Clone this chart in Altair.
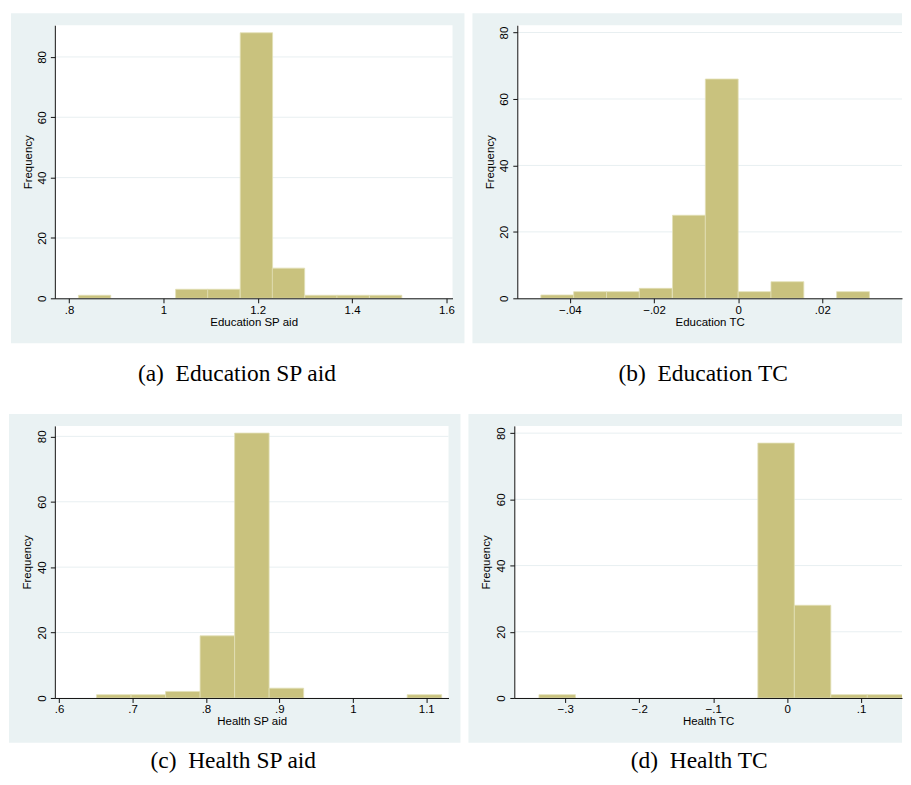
import altair as alt
import pandas as pd

# ---------------- data ----------------
edu_sp_bin_start = [0.820, 0.889, 0.957, 1.026, 1.094, 1.163, 1.231, 1.300, 1.368, 1.437]
edu_sp_bin_width = 0.0686
edu_sp_counts = [1, 0, 0, 3, 3, 88, 10, 1, 1, 1]
edu_sp_ticks = [0.8, 1.0, 1.2, 1.4, 1.6]
edu_sp_tick_labels = [".8", "1", "1.2", "1.4", "1.6"]

edu_tc_bin_start = [-0.0469, -0.0391, -0.0313, -0.0235, -0.0156, -0.0078, 0.0000, 0.0078, 0.0156, 0.0234]
edu_tc_bin_width = 0.0078
edu_tc_counts = [1, 2, 2, 3, 25, 66, 2, 5, 0, 2]
edu_tc_ticks = [-0.04, -0.02, 0.0, 0.02]
edu_tc_tick_labels = ["\u2212.04", "\u2212.02", "0", ".02"]

hl_sp_bin_start = [0.651, 0.698, 0.745, 0.792, 0.839, 0.886, 0.933, 0.980, 1.027, 1.074]
hl_sp_bin_width = 0.047
hl_sp_counts = [1, 1, 2, 19, 81, 3, 0, 0, 0, 1]
hl_sp_ticks = [0.6, 0.7, 0.8, 0.9, 1.0, 1.1]
hl_sp_tick_labels = [".6", ".7", ".8", ".9", "1", "1.1"]

hl_tc_bin_start = [-0.3354, -0.2861, -0.2368, -0.1875, -0.1382, -0.0889, -0.0396, 0.0097, 0.0590, 0.1083]
hl_tc_bin_width = 0.0493
hl_tc_counts = [1, 0, 0, 0, 0, 0, 77, 28, 1, 1]
hl_tc_ticks = [-0.3, -0.2, -0.1, 0.0, 0.1]
hl_tc_tick_labels = ["\u2212.3", "\u2212.2", "\u2212.1", "0", ".1"]

freq_ticks = [0, 20, 40, 60, 80]
grid_levels = [20, 40, 60, 80]
y_title = "Frequency"
x_titles = ["Education SP aid", "Education TC", "Health SP aid", "Health TC"]
captions = ["(a)\u00a0 Education SP aid", "(b)\u00a0 Education TC",
            "(c)\u00a0 Health SP aid", "(d)\u00a0 Health TC"]

# ---------------- styling ----------------
BG = "#eaf2f3"
BAR = "#c9c27e"
EDGE = "#e2dfb6"
GRID = "#e8eff1"
SANS = "Liberation Sans"
SERIF = "Liberation Serif"
FS = 11.5


def label_expr(ticks, labels):
    expr = "''"
    for t, l in reversed(list(zip(ticks, labels))):
        expr = f"abs(datum.value - ({t})) < 1e-9 ? '{l}' : ({expr})"
    return expr


def panel(starts, width, counts, ticks, tick_labels, x_title, caption,
          w, h, xdom, ymax, gray, cap_xy, title_x, extender=None):
    df = pd.DataFrame({"start": starts, "count": counts})
    df["end"] = df["start"] + width
    df["base"] = 0

    xscale = alt.Scale(domain=xdom, nice=False, zero=False)
    yscale = alt.Scale(domain=[0, ymax], nice=False, zero=True)
    xaxis = alt.Axis(values=ticks, labelExpr=label_expr(ticks, tick_labels),
                     title=x_title, grid=False, zindex=1,
                     domainColor="#111111", domainWidth=1,
                     tickColor="#111111", tickSize=4.5, tickWidth=1,
                     labelFont=SANS, labelFontSize=FS, labelColor="black",
                     labelPadding=1.5, labelFlush=False, labelOverlap=False,
                     titleFont=SANS, titleFontSize=FS, titleFontWeight="normal",
                     titleColor="black", titleY=24, titleBaseline="middle")
    yaxis = alt.Axis(values=freq_ticks, title=y_title, grid=False, zindex=1,
                     domainColor="#111111", domainWidth=1,
                     tickColor="#111111", tickSize=4.5, tickWidth=1,
                     labelFont=SANS, labelFontSize=FS, labelColor="black",
                     labelAngle=270, labelAlign="center", labelBaseline="bottom",
                     labelPadding=3, labelFlush=False, labelOverlap=False,
                     titleFont=SANS, titleFontSize=FS, titleFontWeight="normal",
                     titleColor="black", titleAngle=270, titleX=title_x,
                     titleY=h / 2, titleAlign="center", titleBaseline="middle")

    one = pd.DataFrame({"k": [0]})
    layers = []
    if extender is not None:
        layers.append(alt.Chart(one).mark_rect(color="white").encode(
            x=alt.value(extender[0]), x2=alt.value(extender[1]),
            y=alt.value(extender[2]), y2=alt.value(extender[3])))
    layers.append(alt.Chart(one).mark_rect(color=BG).encode(
        x=alt.value(gray[0]), x2=alt.value(gray[1]),
        y=alt.value(gray[2]), y2=alt.value(gray[3])))
    layers.append(alt.Chart(one).mark_rect(color="white").encode(
        x=alt.value(0), x2=alt.value(w), y=alt.value(0), y2=alt.value(h)))
    layers.append(alt.Chart(pd.DataFrame({"count": grid_levels})).mark_rule(
        color=GRID, strokeWidth=1).encode(
        y=alt.Y("count:Q", scale=yscale, axis=yaxis),
        x=alt.value(0), x2=alt.value(w)))
    layers.append(alt.Chart(df).transform_filter(alt.datum.count > 0).mark_rect(
        color=BAR, stroke=EDGE, strokeWidth=0.8, clip=True).encode(
        x=alt.X("start:Q", scale=xscale, axis=xaxis),
        x2="end:Q",
        y=alt.Y("count:Q", scale=yscale, axis=yaxis),
        y2="base:Q"))
    layers.append(alt.Chart(one).mark_text(
        text=caption, font=SERIF, fontSize=23.5, align="center",
        baseline="alphabetic", color="black").encode(
        x=alt.value(cap_xy[0]), y=alt.value(cap_xy[1])))
    return alt.layer(*layers).properties(width=w, height=h)


pa = panel(edu_sp_bin_start, edu_sp_bin_width, edu_sp_counts, edu_sp_ticks,
           edu_sp_tick_labels, x_titles[0], captions[0],
           w=399, h=274, xdom=[0.770, 1.613], ymax=90.5,
           gray=(-44, 411, -12, 319), cap_xy=(182.7, 356.5), title_x=-26,
           extender=(-46, 0, 0, 374))
pb = panel(edu_tc_bin_start, edu_tc_bin_width, edu_tc_counts, edu_tc_ticks,
           edu_tc_tick_labels, x_titles[1], captions[1],
           w=386, h=274, xdom=[-0.0525, 0.03894], ymax=82.2,
           gray=(-45, 386, -12, 319), cap_xy=(186.5, 356.5), title_x=-27)
pc = panel(hl_sp_bin_start, hl_sp_bin_width, hl_sp_counts, hl_sp_ticks,
           hl_sp_tick_labels, x_titles[2], captions[2],
           w=395, h=273, xdom=[0.5942, 1.1303], ymax=83.2,
           gray=(-46, 407, -12, 318), cap_xy=(179, 343), title_x=-27)
pd_ = panel(hl_tc_bin_start, hl_tc_bin_width, hl_tc_counts, hl_tc_ticks,
            hl_tc_tick_labels, x_titles[3], captions[3],
            w=389, h=273, xdom=[-0.3687, 0.1552], ymax=82.2,
            gray=(-46, 389, -12, 318), cap_xy=(185.5, 343), title_x=-27.7)

row1 = alt.hconcat(pa, pb, spacing=6)
row2 = alt.hconcat(pc, pd_, spacing=6)

chart = alt.vconcat(row1, row2, spacing=14).properties(
    padding={"left": 0, "top": 3, "right": 0, "bottom": 0}
).configure_view(stroke="transparent")

chart.save("out.html", embed_options={"renderer": "svg", "actions": False})
